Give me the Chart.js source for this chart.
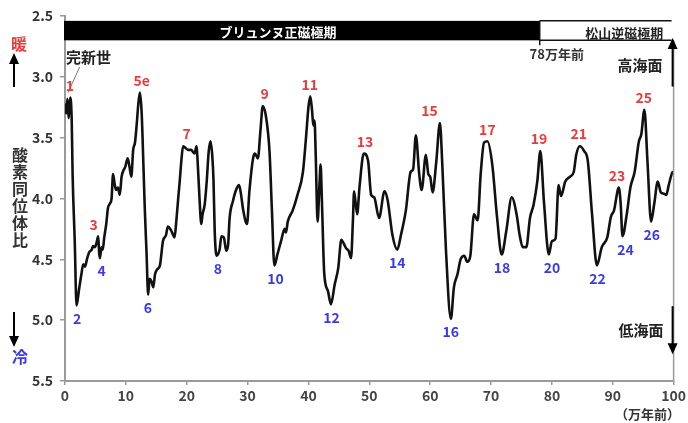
<!DOCTYPE html>
<html>
<head>
<meta charset="utf-8">
<script src="https://cdn.jsdelivr.net/npm/chart.js@4/dist/chart.umd.min.js"></script>
<style>
  html, body { margin: 0; padding: 0; background: #fff; }
  #wrap { width: 688px; height: 423px; position: relative; }
</style>
</head>
<body>
<div id="wrap"><canvas id="c" width="688" height="423"></canvas></div>
<script>
// Age (10^4 years ago) and benthic oxygen isotope ratio (per mil)
const ages = [
  0, 0.2, 0.4, 0.6, 0.85, 1.1, 1.25, 1.6, 1.9, 2.3, 2.7, 3.0, 3.3, 3.6, 4.0, 4.4, 4.6, 4.9, 5.2, 5.46, 5.6, 5.74,
  6.0, 6.2, 6.45, 6.8, 7.05, 7.4, 7.65, 7.9, 8.15, 8.4, 8.7, 9.0, 9.3, 9.6, 9.9, 10.3, 10.6, 10.9, 11.2, 11.5,
  11.8, 12.0, 12.3, 12.6, 12.9, 13.1, 13.4, 13.66, 13.9, 14.2, 14.5, 14.8, 15.2, 15.6, 16.1, 16.6, 16.9, 17.3,
  17.6, 18.0, 18.3, 18.6, 18.85, 19.1, 19.4, 19.7, 20.2, 20.7, 21.3, 21.6, 21.85, 22.1, 22.4, 22.6, 22.95, 23.3,
  23.6, 23.9, 24.2, 24.4, 24.6, 24.9, 25.4, 25.7, 26.1, 26.5, 26.8, 27.05, 27.6, 28.1, 28.6, 28.9, 29.3, 29.9,
  30.3, 30.9, 31.2, 31.7, 32.1, 32.5, 33.0, 33.6, 34.0, 34.4, 34.9, 35.5, 36.1, 36.3, 36.6, 37.4, 38.2, 39.1,
  39.6, 40.0, 40.3, 40.6, 40.8, 41.0, 41.2, 41.5, 41.8, 42.0, 42.2, 42.6, 43.2, 43.7, 44.3, 44.9, 45.4, 45.8,
  46.2, 46.6, 47.0, 47.3, 47.5, 48.0, 48.4, 49.1, 49.8, 50.3, 50.8, 51.6, 52.5, 53.0, 53.8, 54.6, 55.2, 56.0,
  56.8, 57.2, 57.65, 58.2, 58.6, 59.3, 59.7, 60.0, 60.4, 61.0, 61.6, 62.0, 62.6, 63.4, 63.9, 64.5, 65.0, 65.6,
  66.1, 66.6, 67.2, 67.8, 68.3, 68.85, 69.4, 70.2, 71.0, 71.75, 72.5, 73.4, 74.2, 74.7, 75.2, 75.8, 76.4, 77.0,
  77.6, 78.1, 78.7, 79.5, 80.0, 80.6, 81.1, 81.5, 82.2, 83.0, 83.6, 84.0, 84.6, 85.3, 85.9, 86.6, 87.4, 88.2,
  89.1, 89.7, 90.2, 91.0, 91.3, 91.6, 92.3, 92.9, 93.6, 94.3, 94.7, 95.2, 95.7, 96.3, 96.8, 97.4, 97.9, 98.4,
  98.8, 99.2, 99.75, 100
];
const isotope = [
  3.22, 3.30, 3.18, 3.34, 3.17, 3.35, 3.80, 4.35, 4.88, 4.75, 4.62, 4.54, 4.56, 4.50, 4.44, 4.42, 4.39, 4.40, 4.36, 4.31, 4.44, 4.49,
  4.40, 4.42, 4.32, 4.20, 4.08, 4.04, 4.00, 3.80, 3.88, 3.93, 3.91, 3.97, 3.82, 3.77, 3.74, 3.67, 3.74, 3.82, 3.60, 3.54,
  3.38, 3.25, 3.13, 3.30, 3.75, 4.07, 4.45, 4.79, 4.66, 4.68, 4.73, 4.62, 4.58, 4.55, 4.35, 4.30, 4.23, 4.25,
  4.28, 4.32, 4.18, 4.00, 3.86, 3.70, 3.57, 3.58, 3.60, 3.60, 3.63, 3.57, 3.75, 4.00, 4.21, 4.13, 4.05, 3.85,
  3.62, 3.53, 3.65, 3.85, 4.27, 4.47, 4.42, 4.31, 4.32, 4.43, 4.38, 4.16, 4.02, 3.93, 3.89, 3.96, 4.10, 4.21,
  3.94, 3.67, 3.63, 3.67, 3.45, 3.24, 3.32, 3.61, 4.10, 4.55, 4.46, 4.35, 4.25, 4.28, 4.19, 4.10, 3.97, 3.78,
  3.50, 3.25, 3.16, 3.28, 3.40, 3.36, 3.65, 4.19, 3.90, 3.72, 4.00, 4.62, 4.76, 4.87, 4.71, 4.57, 4.34, 4.37,
  4.41, 4.43, 4.49, 4.19, 3.94, 4.13, 3.90, 3.63, 3.69, 3.97, 3.99, 4.16, 3.94, 4.01, 4.30, 4.42, 4.30, 4.10,
  3.78, 3.76, 3.48, 3.80, 3.93, 3.64, 3.80, 3.82, 3.95, 3.70, 3.38, 3.73, 4.43, 4.99, 4.73, 4.62, 4.50, 4.47,
  4.52, 4.47, 4.13, 4.18, 3.80, 3.54, 3.53, 3.72, 4.16, 4.46, 4.27, 3.99, 4.13, 4.30, 4.40, 4.40, 4.16, 4.05,
  3.86, 3.61, 4.03, 4.46, 4.35, 4.33, 3.89, 3.98, 3.86, 3.82, 3.78, 3.64, 3.57, 3.61, 3.69, 4.13, 4.55, 4.40,
  4.32, 4.15, 4.10, 3.91, 4.04, 4.31, 4.13, 3.91, 3.78, 3.53, 3.47, 3.27, 3.69, 4.19, 4.05, 3.86, 3.95, 3.96,
  3.97, 3.89, 3.79, 3.78
];

// Axis ticks
const yTicks = [2.5, 3.0, 3.5, 4.0, 4.5, 5.0, 5.5];
const xTicks = [0, 10, 20, 30, 40, 50, 60, 70, 80, 90, 100];

// Marine isotope stages: odd = warm (red), even = cold (blue)
const stageNames = ['1', '2', '3', '4', '5e', '6', '7', '8', '9', '10', '11', '12', '13',
                    '14', '15', '16', '17', '18', '19', '20', '21', '22', '23', '24', '25', '26'];
const stageAges = [0.8, 2.0, 4.7, 6.0, 12.6, 13.6, 20.0, 25.1, 32.8, 34.6, 40.2, 43.8, 49.3,
                   54.6, 59.9, 63.4, 69.4, 71.8, 77.9, 80.0, 84.4, 87.5, 90.7, 92.1, 95.1, 96.4];

// Geomagnetic polarity chrons (10^4 years ago)
const chronNames = ['ブリュンヌ正磁極期', '松山逆磁極期'];
const chronBounds = [0, 78, 100];
const boundaryLabel = '78万年前';

const RED = '#e83c3c';
const BLUE = '#3b3be6';
const JP = '"Noto Sans CJK JP", "Noto Sans", sans-serif';

function isWarm(name) { return parseInt(name, 10) % 2 === 1; }

// most extreme value of the curve within 2 units of an age
function extremeNear(age, warm) {
  let best = null;
  for (let i = 0; i < ages.length; i++) {
    if (Math.abs(ages[i] - age) <= 2.0) {
      const v = isotope[i];
      if (best === null || (warm ? v < best : v > best)) best = v;
    }
  }
  return best;
}

function vArrow(ctx, x, yFrom, yTip, color) {
  const dir = yTip < yFrom ? -1 : 1;
  ctx.save();
  ctx.strokeStyle = color; ctx.fillStyle = color; ctx.lineWidth = 2;
  ctx.beginPath(); ctx.moveTo(x, yFrom); ctx.lineTo(x, yTip - dir * 9); ctx.stroke();
  ctx.beginPath();
  ctx.moveTo(x, yTip);
  ctx.lineTo(x - 5, yTip - dir * 11);
  ctx.lineTo(x + 5, yTip - dir * 11);
  ctx.closePath(); ctx.fill();
  ctx.restore();
}

const decorations = {
  id: 'decorations',
  afterDatasetsDraw(chart) {
    const { ctx, chartArea: ca, scales: { x, y } } = chart;
    ctx.save();

    // right frame line
    ctx.strokeStyle = '#9a9a9a'; ctx.lineWidth = 1.5;
    ctx.beginPath(); ctx.moveTo(ca.right, y.getPixelForValue(2.70)); ctx.lineTo(ca.right, ca.bottom); ctx.stroke();

    // polarity chron bar
    const yTop = y.getPixelForValue(2.54), yBot = y.getPixelForValue(2.70);
    const xa = x.getPixelForValue(chronBounds[0]), xb = x.getPixelForValue(chronBounds[1]), xc = x.getPixelForValue(chronBounds[2]);
    ctx.fillStyle = '#000';
    ctx.fillRect(xa - 1, yTop, xb - xa + 1, yBot - yTop);
    ctx.strokeStyle = '#111'; ctx.lineWidth = 1.5;
    ctx.beginPath();
    ctx.moveTo(xb, yTop); ctx.lineTo(xc - 2, yTop);
    ctx.moveTo(xb, yBot); ctx.lineTo(xc - 2, yBot);
    ctx.moveTo(xb, yTop); ctx.lineTo(xb, y.getPixelForValue(2.74));
    ctx.stroke();

    ctx.textBaseline = 'middle';
    ctx.font = 'bold 13px ' + JP;
    ctx.fillStyle = '#fff'; ctx.textAlign = 'right';
    ctx.fillText(chronNames[0], x.getPixelForValue(44.6), (yTop + yBot) / 2 + 1);
    ctx.fillStyle = '#222';
    ctx.font = 'bold 13px ' + JP;
    ctx.fillText(chronNames[1], x.getPixelForValue(98.3), (yTop + yBot) / 2 + 2);

    ctx.font = 'bold 13px ' + JP; ctx.textAlign = 'center'; ctx.fillStyle = '#333';
    ctx.fillText(boundaryLabel, x.getPixelForValue(80.8), y.getPixelForValue(2.81));

    // Holocene label with leader line
    ctx.font = 'bold 15px ' + JP; ctx.textAlign = 'left'; ctx.fillStyle = '#222';
    ctx.fillText('完新世', x.getPixelForValue(0.15), y.getPixelForValue(2.84));
    ctx.strokeStyle = '#777'; ctx.lineWidth = 1;
    ctx.beginPath();
    ctx.moveTo(x.getPixelForValue(2.4), y.getPixelForValue(2.92));
    ctx.lineTo(x.getPixelForValue(0.5), y.getPixelForValue(3.13));
    ctx.stroke();

    // stage numbers
    ctx.font = 'bold 14px ' + JP; ctx.textAlign = 'center';
    stageNames.forEach((name, i) => {
      const warm = isWarm(name);
      const v = extremeNear(stageAges[i], warm);
      const py = y.getPixelForValue(v) + (warm ? -12 : 13);
      ctx.fillStyle = warm ? RED : BLUE;
      ctx.fillText(name, x.getPixelForValue(stageAges[i]), py);
    });

    // sea-level arrows on the right
    vArrow(ctx, ca.right - 1, y.getPixelForValue(3.08), y.getPixelForValue(2.68), '#000');
    vArrow(ctx, ca.right - 1, y.getPixelForValue(4.885), y.getPixelForValue(5.28), '#000');
    ctx.font = 'bold 15px ' + JP; ctx.textAlign = 'right'; ctx.fillStyle = '#222';
    ctx.fillText('高海面', ca.right - 11, y.getPixelForValue(2.903));
    ctx.fillText('低海面', ca.right - 10, y.getPixelForValue(5.08));

    // left-hand axis caption: warm / isotope ratio / cold
    vArrow(ctx, 14, 87, 53, '#000');
    vArrow(ctx, 14, 312, 347, '#000');
    ctx.textAlign = 'center';
    ctx.font = 'bold 16px ' + JP;
    ctx.fillStyle = RED; ctx.fillText('暖', 19, 44);
    ctx.fillStyle = BLUE; ctx.fillText('冷', 20, 357);
    ctx.fillStyle = '#333';
    const cap = '酸素同位体比';
    for (let k = 0; k < cap.length; k++) ctx.fillText(cap[k], 20, 155 + k * 17);

    // x unit
    ctx.font = 'bold 13px ' + JP; ctx.textAlign = 'right'; ctx.fillStyle = '#333';
    ctx.fillText('（万年前）', 680, 414);

    ctx.restore();
  }
};

new Chart(document.getElementById('c'), {
  type: 'line',
  data: {
    datasets: [{
      data: ages.map((a, i) => ({ x: a, y: isotope[i] })),
      borderColor: '#111',
      borderWidth: 2.6,
      pointRadius: 0,
      cubicInterpolationMode: 'monotone',
      fill: false
    }]
  },
  options: {
    responsive: false,
    animation: false,
    devicePixelRatio: 1,
    layout: { padding: { left: 0, right: 13, top: 16, bottom: 0 } },
    plugins: { legend: { display: false }, tooltip: { enabled: false } },
    scales: {
      x: {
        type: 'linear', min: 0, max: 100,
        afterFit(s) { s.height = 42; },
        afterBuildTicks(s) { s.ticks = xTicks.map(v => ({ value: v })); },
        grid: { drawOnChartArea: false, tickLength: 4, color: '#9a9a9a', lineWidth: 1.5 },
        border: { color: '#9a9a9a', width: 2 },
        ticks: { color: '#444', padding: 2, maxRotation: 0, font: { family: JP, size: 14, weight: 'bold' } }
      },
      y: {
        reverse: true, min: 2.5, max: 5.5,
        afterFit(s) { s.width = 65; },
        afterBuildTicks(s) { s.ticks = yTicks.map(v => ({ value: v })); },
        grid: { drawOnChartArea: false, tickLength: 5, color: '#9a9a9a', lineWidth: 1.5 },
        border: { color: '#9a9a9a', width: 2 },
        ticks: { color: '#333', padding: 7, callback: v => v.toFixed(1), font: { family: JP, size: 14, weight: 'bold' } }
      }
    }
  },
  plugins: [decorations]
});
</script>
</body>
</html>
